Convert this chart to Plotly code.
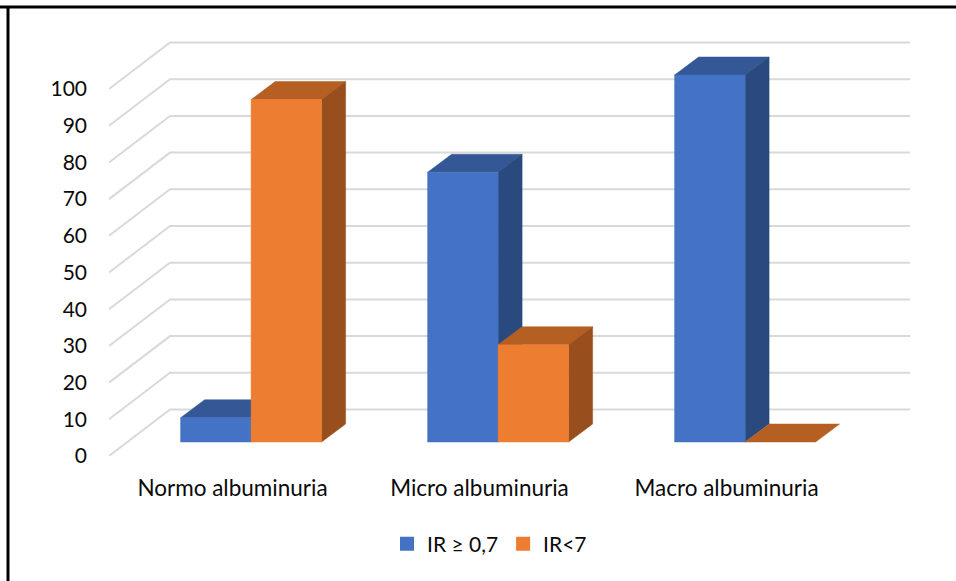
import plotly.graph_objects as go

categories = ["Normo albuminuria", "Micro albuminuria", "Macro albuminuria"]
series_names = ["IR ≥ 0,7", "IR<7"]
ir_high = [6.6, 73.5, 100]
ir_low = [93.3, 26.5, 0]
y_ticks = list(range(0, 101, 10))

# Oblique projection: how far a step into the chart moves on each axis.
PX_PER_CAT = 247.0
PX_PER_VAL = 3.67
WALL_DX, WALL_DY = 61 / PX_PER_CAT, 46.5 / PX_PER_VAL
NEAR_DX, NEAR_DY = 18.6 / PX_PER_CAT, 14 / PX_PER_VAL
FAR_DX, FAR_DY = 42.6 / PX_PER_CAT, 32 / PX_PER_VAL
BAR_W = 70.5 / PX_PER_CAT

PALETTE = [
    {"front": "#4472C4", "top": "#345896", "side": "#2A4A7F"},
    {"front": "#ED7D31", "top": "#B55F22", "side": "#984F1D"},
]

fig = go.Figure()


def poly(xs, ys, color):
    fig.add_trace(go.Scatter(
        x=xs + xs[:1], y=ys + ys[:1], mode="lines", fill="toself",
        fillcolor=color, line=dict(color=color, width=0.5),
        showlegend=False, hoverinfo="skip",
    ))


# Gridlines run along the left wall and then across the back wall.
grid_x, grid_y = [], []
for t in y_ticks:
    grid_x += [0, WALL_DX, 3 + WALL_DX - 0.004, None]
    grid_y += [t, t + WALL_DY, t + WALL_DY, None]
fig.add_trace(go.Scatter(
    x=grid_x, y=grid_y, mode="lines",
    line=dict(color="#D9D9D9", width=2), showlegend=False, hoverinfo="skip",
))

# Each block: top and side first, then the front face, left to right.
for i in range(len(categories)):
    centre = i + 0.5
    for s, values in enumerate([ir_high, ir_low]):
        v = values[i]
        c = PALETTE[s]
        left = centre + NEAR_DX + (s - 1) * BAR_W
        right = left + BAR_W
        back_dx = FAR_DX - NEAR_DX
        base = NEAR_DY
        top = base + v
        back_dy = FAR_DY - NEAR_DY
        poly([left, right, right + back_dx, left + back_dx],
             [top, top, top + back_dy, top + back_dy], c["top"])
        if v > 0:
            poly([right, right + back_dx, right + back_dx, right],
                 [base, base + back_dy, top + back_dy, top], c["side"])
            poly([left, right, right, left], [base, base, top, top], c["front"])

# Legend keys as square swatches.
for name, c in zip(series_names, PALETTE):
    fig.add_trace(go.Scatter(
        x=[None], y=[None], mode="markers", name=name,
        marker=dict(symbol="square", size=14, color=c["front"]),
    ))

W, H = 956, 581
FONT = "Lato"
fig.update_layout(
    width=W, height=H,
    margin=dict(l=0, r=0, t=0, b=0),
    paper_bgcolor="white", plot_bgcolor="white",
    font=dict(family=FONT, size=21, color="#0A0A0A"),
    xaxis=dict(
        domain=[109 / W, 915 / W], range=[0, 806 / PX_PER_CAT],
        tickmode="array", tickvals=[0.5, 1.5, 2.5], ticktext=categories,
        tickfont=dict(size=22.5), automargin=False,
        showgrid=False, zeroline=False, showline=False, ticks="",
        ticklabelstandoff=16, fixedrange=True,
    ),
    yaxis=dict(
        domain=[(H - 456) / H, (H - 30) / H], range=[0, 426 / PX_PER_VAL],
        tickmode="array", tickvals=y_ticks, automargin=False,
        showgrid=False, zeroline=False, showline=False, ticks="",
        ticklabelstandoff=21, fixedrange=True,
    ),
    legend=dict(
        orientation="h", x=489.5 / W, xanchor="center",
        y=1 - 544 / H, yanchor="middle",
        font=dict(family=FONT, size=21), itemwidth=30,
        bgcolor="rgba(0,0,0,0)",
    ),
    shapes=[
        dict(type="line", xref="paper", yref="paper", x0=0, x1=1,
             y0=1 - 7 / H, y1=1 - 7 / H, line=dict(color="black", width=3)),
        dict(type="line", xref="paper", yref="paper", x0=8 / W, x1=8 / W,
             y0=0, y1=1 - 6 / H, line=dict(color="black", width=3)),
    ],
)

fig.write_html("out.html")
